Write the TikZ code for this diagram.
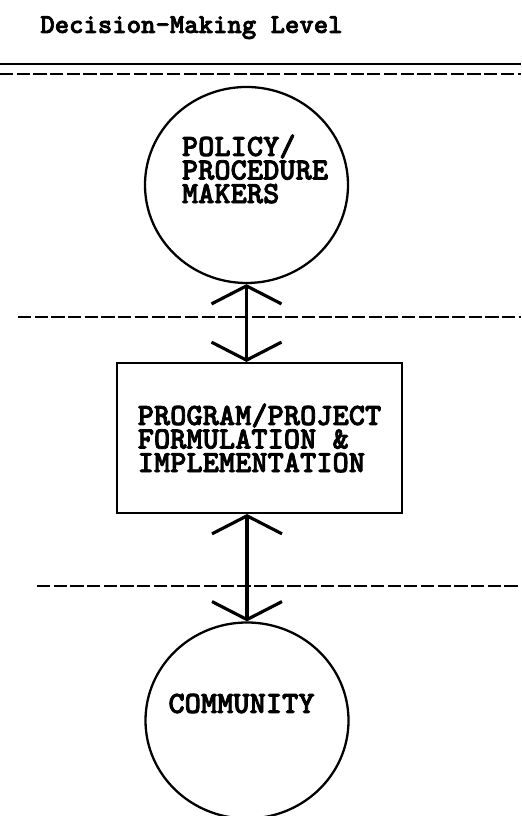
\documentclass[tikz,border=0pt]{standalone}
\usepackage{fontspec}
\usetikzlibrary{positioning, shapes.geometric, arrows.meta, calc}
\newfontfamily\typefont{lmmonolt10-bold.otf}[FakeBold=2.5]
\newcommand\bodyfont{\typefont\fontsize{17.6}{13.4}\selectfont}
\newcommand\headfont{\typefont\fontsize{15.6}{18}\selectfont}
\tikzset{
  level/.style={ellipse, draw, line width=1.3pt, minimum width=4.06cm, minimum height=3.92cm, inner sep=0pt},
  stage/.style={draw, line width=1.2pt, minimum width=5.7cm, minimum height=3cm, align=left, font=\bodyfont, inner sep=0pt},
  lbl/.style={align=left, font=\bodyfont, inner sep=0pt},
  link/.style={line width=1.8pt, {Straight Barb[length=3.6mm, width=14mm]}-{Straight Barb[length=3.6mm, width=14mm]}},
  divider/.style={line width=1.6pt, dash pattern=on 7.5pt off 2pt}
}

\begin{document}
\begin{tikzpicture}
    \useasboundingbox (0,0) rectangle (10.42,16.32);
    \node[font=\headfont, anchor=base west, inner sep=0pt] (title) at (0.8,15.66) {Decision-Making Level};
    % level boundaries
    \draw[line width=1.6pt] (0,15.04) -- (10.42,15.04);
    \draw[divider] (0,14.84) -- (10.42,14.84);
    \draw[divider] (0.36,9.98) -- (10.42,9.98);
    \draw[divider] (0.74,4.6) -- (10.42,4.6);
    % actors
    \node[level] (policy) at (4.93,12.62) {};
    \node[lbl] (policytext) at (5.1,12.94) {POLICY/\\PROCEDURE\\MAKERS};
    \node[stage] (prog) at (5.19,7.56) {PROGRAM/PROJECT\\FORMULATION \&\\IMPLEMENTATION};
    \node[level] (community) at (4.94,1.91) {};
    \node[lbl] (communitytext) at (4.83,2.25) {COMMUNITY};
    % two-way flows
    \draw[link] (policy.south) -- (policy.south |- prog.north);
    \draw[link] (prog.south -| community.north) -- (community.north);
\end{tikzpicture}
\end{document}
